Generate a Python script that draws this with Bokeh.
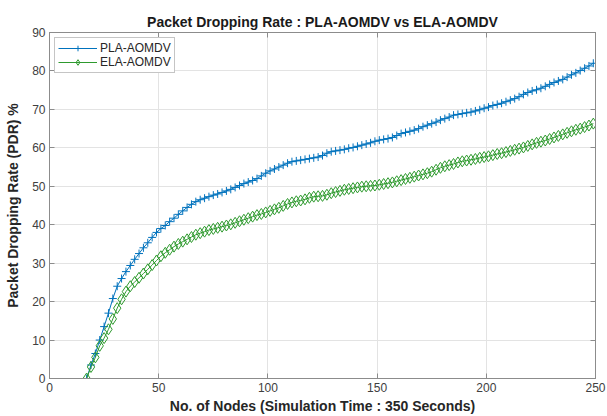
from bokeh.plotting import figure
from bokeh.models import LinearAxis, Range1d, Legend, LegendItem, FixedTicker
from bokeh.embed import file_html
from bokeh.resources import INLINE

# ---- data ----
nodes = list(range(17, 251, 2))

pla_aomdv = [
    0, 3.5, 6.5, 10, 13.5, 17, 20.8, 24, 26, 27.8, 29.4, 31, 32.5, 34, 35.3, 36.7, 38,
    39, 39.8, 40.8, 41.7, 42.7, 43.6, 44.5, 45.3, 46, 46.5, 46.9, 47.3, 47.7, 48, 48.4,
    48.8, 49.2, 49.7, 50.2, 50.7, 51.1, 51.5, 52, 52.7, 53.4,
    54, 54.5, 55, 55.5, 56, 56.4, 56.6, 56.8, 57, 57.2, 57.4, 57.6, 58, 58.6, 59,
    59.2, 59.4, 59.6, 59.9, 60.1, 60.4, 60.7, 61, 61.3, 61.7,
    62, 62.2, 62.4, 62.7, 63.2, 63.7, 64, 64.3, 64.6, 65, 65.5, 65.9, 66.3, 66.7, 67.2,
    67.6, 68, 68.5, 68.7, 68.9, 69.1, 69.3, 69.6, 69.9, 70.3,
    70.6, 71, 71.3, 71.6, 72, 72.4, 72.8, 73.3, 73.9, 74.4, 74.8, 75.1, 75.5, 76, 76.5,
    77, 77.4, 77.8, 78.4, 79, 79.5, 80.1, 80.7, 81.3, 82,
]

ela_aomdv = [
    0, 3, 5.5, 8.5, 10.5, 12.8, 15.5, 18.3, 20.6, 22.6, 24, 25.1, 26.2, 27.3, 28.4, 29.5, 30.7,
    31.8, 32.7, 33.5, 34.3, 35, 35.6, 36.2, 36.8, 37.4, 37.8, 38.2, 38.6, 38.9, 39.2, 39.5,
    39.8, 40.1, 40.5, 40.9, 41.3, 41.7, 42.1, 42.5, 42.8, 43.2,
    43.6, 44, 44.4, 44.9, 45.4, 45.8, 46.1, 46.3, 46.6, 47, 47.3, 47.4, 47.5, 47.8, 48.2,
    48.5, 48.8, 49.1, 49.3, 49.5, 49.7, 49.9, 50, 50.1, 50.2,
    50.4, 50.6, 50.8, 51, 51.3, 51.6, 51.9, 52.2, 52.5, 52.8, 53.1, 53.4, 53.8, 54.3, 54.8,
    55.2, 55.5, 55.8, 56.2, 56.5, 56.7, 56.9, 57.1, 57.4, 57.6,
    57.8, 58.1, 58.4, 58.6, 58.9, 59.2, 59.5, 59.8, 60.1, 60.5, 60.9, 61.3, 61.6, 61.9, 62.3,
    62.7, 63.1, 63.5, 63.9, 64.3, 64.7, 65, 65.4, 65.8, 66.3,
]

x_ticks = [0, 50, 100, 150, 200, 250]
y_ticks = [0, 10, 20, 30, 40, 50, 60, 70, 80, 90]

title_text = "Packet Dropping Rate : PLA-AOMDV vs ELA-AOMDV"
x_label = "No. of Nodes (Simulation Time : 350 Seconds)"
y_label = "Packet Dropping Rate (PDR) %"

FONT = "Liberation Sans"
AX_COL = "#8c8c8c"
TXT_COL = "#404040"
BLUE = "#0072BD"
GREEN = "#2e9a2e"

p = figure(width=607, height=416, x_range=Range1d(0, 250), y_range=Range1d(0, 90),
           output_backend="svg", toolbar_location=None,
           min_border_left=49, min_border_right=12, min_border_top=32, min_border_bottom=38,
           background_fill_color="white", border_fill_color="white")

p.title.text = title_text
p.title.align = "center"
p.title.text_font = FONT
p.title.text_font_size = "14px"
p.title.text_font_style = "bold"
p.title.text_color = "#1a1a1a"
p.title.standoff = 6

p.outline_line_color = AX_COL
p.outline_line_width = 1

p.xaxis.ticker = FixedTicker(ticks=x_ticks)
p.yaxis.ticker = FixedTicker(ticks=y_ticks)
for ax in (p.xaxis[0], p.yaxis[0]):
    ax.axis_line_color = AX_COL
    ax.major_tick_line_color = AX_COL
    ax.major_tick_in = 5
    ax.major_tick_out = 0
    ax.minor_tick_line_color = None
    ax.major_label_text_font = FONT
    ax.major_label_text_font_size = "12px"
    ax.major_label_text_color = TXT_COL
    ax.major_label_standoff = 4
    ax.axis_label_text_font = FONT
    ax.axis_label_text_font_size = "14px"
    ax.axis_label_text_font_style = "bold"
    ax.axis_label_text_color = "#262626"
    ax.axis_label_standoff = 3
p.yaxis.axis_label_standoff = 8
p.xaxis.axis_label = x_label
p.yaxis.axis_label = y_label

for loc, tk in (("right", y_ticks), ("above", x_ticks)):
    ax = LinearAxis(ticker=FixedTicker(ticks=tk))
    ax.axis_line_color = AX_COL
    ax.major_tick_line_color = AX_COL
    ax.major_tick_in = 5
    ax.major_tick_out = 0
    ax.minor_tick_line_color = None
    ax.major_label_text_font_size = "1px"
    ax.major_label_text_color = None
    ax.major_label_standoff = 0
    p.add_layout(ax, loc)

p.xgrid.ticker = FixedTicker(ticks=x_ticks)
p.ygrid.ticker = FixedTicker(ticks=y_ticks)
p.grid.grid_line_color = "#e3e3e3"
p.grid.grid_line_width = 1

l1 = p.line(nodes, pla_aomdv, line_color=BLUE, line_width=1)
s1 = p.scatter(nodes, pla_aomdv, marker="cross", size=8, line_color=BLUE, line_width=1)
l2 = p.line(nodes, ela_aomdv, line_color=GREEN, line_width=1)
s2 = p.scatter(nodes, ela_aomdv, marker="diamond", size=11, line_color=GREEN,
               fill_color=None, line_width=1)

legend = Legend(items=[LegendItem(label="PLA-AOMDV", renderers=[l1, s1]),
                       LegendItem(label="ELA-AOMDV", renderers=[l2, s2])],
                location="top_left", margin=5, padding=3, spacing=0,
                glyph_width=39, glyph_height=14, label_height=14, label_standoff=3,
                label_text_font=FONT, label_text_font_size="12px", label_text_color="#262626",
                border_line_color=AX_COL, border_line_width=1,
                background_fill_color="white", background_fill_alpha=1)
p.add_layout(legend, "center")

open("out.html", "w").write(file_html(p, INLINE))
